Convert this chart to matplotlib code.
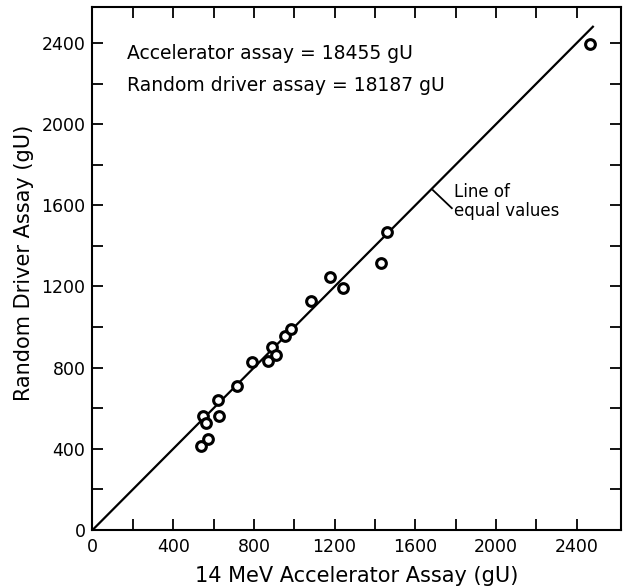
import matplotlib.pyplot as plt
import numpy as np

# lecturas del grafico (gU)
acelerador = [546, 562, 623, 627, 537, 574, 714, 789, 870, 892, 909,
              953, 982, 1081, 1176, 1242, 1428, 1460, 2464]
driver = [562, 525, 640, 563, 414, 447, 711, 826, 833, 903, 862,
          958, 993, 1130, 1248, 1195, 1318, 1469, 2394]

linea_x = [0, 2480]
linea_y = [0, 2480]

ticks_mayores = [0, 400, 800, 1200, 1600, 2000, 2400]
ticks_menores = [200, 600, 1000, 1400, 1800, 2200]

fig = plt.figure(figsize=(6.27, 5.88), dpi=100)
ax = fig.add_axes([0.1475, 0.0986, 0.8425, 0.8894])

ax.plot(linea_x, linea_y, color='black', lw=1.6)
ax.plot(acelerador, driver, 'o', ms=7, mfc='white', mec='black', mew=2.2)

ax.set_xlim(0, 2618)
ax.set_ylim(0, 2577)

ax.set_xticks(ticks_mayores)
ax.set_yticks(ticks_mayores)
ax.set_xticks(ticks_menores, minor=True)
ax.set_yticks(ticks_menores, minor=True)
for q in ['major', 'minor']:
    ax.tick_params(which=q, direction='in', length=8, width=1.3,
                   top=True, right=True, labelsize=12.5)
ax.tick_params(axis='x', pad=6)
ax.tick_params(axis='y', pad=5)
for s in ax.spines.values():
    s.set_linewidth(1.5)

ax.set_xlabel('14 MeV Accelerator Assay (gU)', fontsize=15)
ax.set_ylabel('Random Driver Assay (gU)', fontsize=15)
ax.xaxis.set_label_coords(0.5, -0.068)
ax.yaxis.set_label_coords(-0.11, 0.51)

ax.text(170, 2350, 'Accelerator assay = 18455 gU', fontsize=13.5, va='center')
ax.text(170, 2192, 'Random driver assay = 18187 gU', fontsize=13.5, va='center')

# linea de referencia
ax.plot([1687, 1781], [1675, 1586], color='black', lw=1.3)
ax.text(1790, 1620, 'Line of\nequal values', fontsize=12, va='center',
        linespacing=1.1)

fig.savefig('out.png', dpi=100)
